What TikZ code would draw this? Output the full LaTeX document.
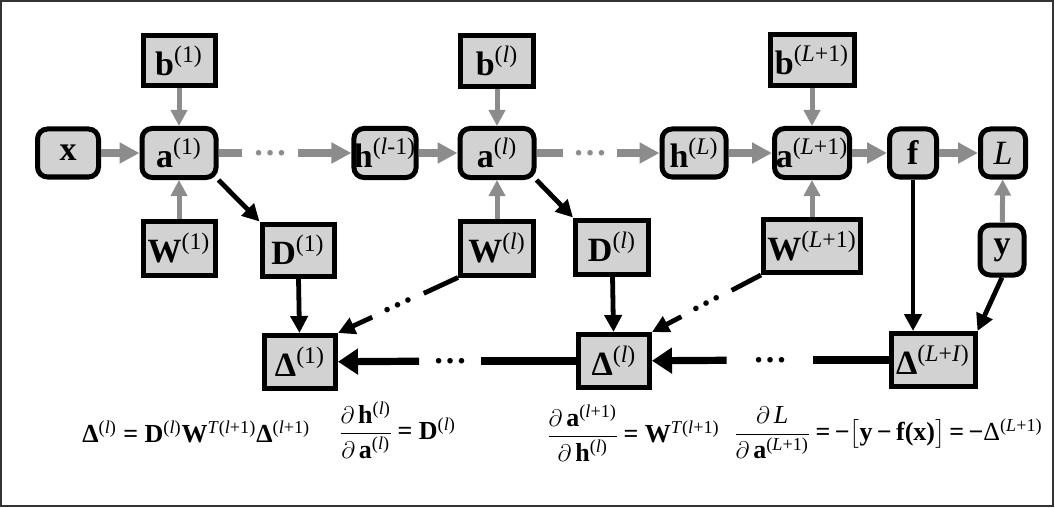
\documentclass[tikz,border=0pt]{standalone}
\usepackage{fontspec}
\setmainfont{Liberation Serif}
\usepackage{amsmath}
\usetikzlibrary{arrows.meta}
\newcommand{\sps}[1]{\textsuperscript{#1}}
\newcommand{\li}{\textit{l}}
\tikzset{
    nd/.style={draw=black, line width=2.5pt, fill=gray!35, inner sep=0pt},
    rbox/.style={nd, rounded corners=5pt},
    sbox/.style={nd},
    wh/.style 2 args={minimum width=#1*0.5pt, minimum height=#2*0.5pt},
    gline/.style={draw=black!45, line width=4pt},
    garrow/.style={gline, -{Triangle[length=10pt,width=10pt]}},
    gvarrow/.style={draw=black!45, line width=2.5pt, -{Triangle[length=8pt,width=8pt]}},
    bline/.style={draw=black, line width=2.4pt},
    barrow/.style={bline, -{Triangle[length=8.5pt,width=8.5pt]}},
    bhline/.style={draw=black, line width=3.6pt},
    bharrow/.style={bhline, -{Triangle[length=10pt,width=12.5pt]}},
    dots/.style={inner sep=0pt, font=\fontsize{17}{20}\selectfont\bfseries},
    eq/.style={inner sep=0pt, font=\fontsize{13}{16}\selectfont}
}
\begin{document}
\begin{tikzpicture}[x=0.5pt, y=-0.5pt, font=\fontsize{17}{20}\selectfont]
    \useasboundingbox (0,0) rectangle (1055,508);
    \draw[line width=1pt, black!80] (1,1) rectangle (1053,506);

    % 前向层
    \node[rbox, wh={61}{48}] (x)  at (68,153)  {\textbf{x}};
    \node[rbox, wh={74}{49}] (a1) at (179,153) {\textbf{a}\sps{(1)}};
    \node[sbox, wh={72}{50}] (b1) at (179,61)  {\textbf{b}\sps{(1)}};
    \node[sbox, wh={72}{54}] (W1) at (179,248) {\textbf{W}\sps{(1)}};
    \node[rbox, wh={62}{49}] (hl) at (385,153) {\textbf{h}\sps{(\li-1)}};
    \node[rbox, wh={74}{49}] (al) at (497,153) {\textbf{a}\sps{(\li)}};
    \node[sbox, wh={73}{51}] (bl) at (497,61)  {\textbf{b}\sps{(\li)}};
    \node[sbox, wh={73}{54}] (Wl) at (497,248) {\textbf{W}\sps{(\li)}};
    \node[rbox, wh={64}{48}] (hL) at (694,153) {\textbf{h}\sps{(\textit{L})}};
    \node[rbox, wh={75}{49}] (aL) at (812,153) {\textbf{a}\sps{(\textit{L}+1)}};
    \node[sbox, wh={84}{51}] (bL) at (812,60)  {\textbf{b}\sps{(\textit{L}+1)}};
    \node[sbox, wh={97}{53}] (WL) at (812,246) {\textbf{W}\sps{(\textit{L}+1)}};
    \node[rbox, wh={47}{48}] (f)  at (913,153) {\textbf{f}};
    \node[rbox, wh={45}{48}] (L)  at (1003,153) {\textit{L}};
    \node[rbox, wh={44}{50}] (y)  at (1002,250) {\textbf{y}};

    % 反向层
    \node[sbox, wh={72}{52}] (D1)  at (298,250) {\textbf{D}\sps{(1)}};
    \node[sbox, wh={73}{54}] (Dl)  at (612,247) {\textbf{D}\sps{(\li)}};
    \node[sbox, wh={71}{53}] (Dt1) at (300,362) {\textbf{Δ}\sps{(1)}};
    \node[sbox, wh={71}{53}] (Dtl) at (614,361) {\textbf{Δ}\sps{(\li)}};
    \node[sbox, wh={84}{53}] (DtL) at (933,360) {\textbf{Δ}\sps{(\textit{L}+\textit{I})}};

    % 省略号
    \node[dots, text=black!45, minimum width=55*0.5pt] (g1) at (270,153) {…};
    \node[dots, text=black!45, minimum width=54*0.5pt] (g2) at (590,153) {…};
    \node[dots, minimum width=61*0.5pt] (k2) at (450,361) {…};
    \node[dots, minimum width=86*0.5pt] (k3) at (770,360) {…};
    \path (Wl.south west) -- (Dt1.north east)
        node[dots, sloped, pos=0.5, minimum width=56*0.5pt] (k1) {…};
    \path (WL.south west) -- (Dtl.north east)
        node[dots, sloped, pos=0.5, minimum width=56*0.5pt] (k4) {…};

    % 前向箭头
    \draw[garrow] (x) -- (a1);
    \draw[gvarrow] (b1) -- (a1);
    \draw[gvarrow] (W1) -- (a1);
    \draw[gline] (a1) -- (g1);
    \draw[garrow] (g1) -- (hl);
    \draw[garrow] (hl) -- (al);
    \draw[gvarrow] (bl) -- (al);
    \draw[gvarrow] (Wl) -- (al);
    \draw[gline] (al) -- (g2);
    \draw[garrow] (g2) -- (hL);
    \draw[garrow] (hL) -- (aL);
    \draw[gvarrow] (bL) -- (aL);
    \draw[gvarrow] (WL) -- (aL);
    \draw[garrow] (aL) -- (f);
    \draw[garrow] (f) -- (L);
    \draw[gvarrow] (y) -- (L);

    % 反向箭头
    \draw[barrow] (a1.south east) -- (D1.north west);
    \draw[barrow] (al.south east) -- (Dl.north west);
    \draw[barrow] (D1) -- (Dt1);
    \draw[barrow] (Dl) -- (Dtl);
    \draw[barrow] (f) -- (f |- DtL.north);
    \draw[barrow] (y.south) -- (DtL.north east);
    \draw[bline] (Wl.south west) -- (k1);
    \draw[barrow] (k1) -- (Dt1.north east);
    \draw[bline] (WL.south west) -- (k4);
    \draw[barrow] (k4) -- (Dtl.north east);
    \draw[bhline] (DtL) -- (k3);
    \draw[bharrow] (k3) -- (Dtl);
    \draw[bhline] (Dtl) -- (k2);
    \draw[bharrow] (k2) -- (Dt1);

    % 公式
    \node[eq, anchor=base west] (e1) at (82,442)
        {\textbf{Δ}\sps{(\li)} \textbf{=} \textbf{D}\sps{(\li)}\textbf{W}\sps{\textit{T}(\li+1)}\textbf{Δ}\sps{(\li+1)}};
    \node[eq] (e2) at (397,430)
        {$\displaystyle\frac{\partial\,\text{\textbf{h}\sps{(\li)}}}{\partial\,\text{\textbf{a}\sps{(\li)}}}$\,\textbf{= D}\sps{(\li)}};
    \node[eq] (e3) at (633,433)
        {$\displaystyle\frac{\partial\,\text{\textbf{a}\sps{(\li+1)}}}{\partial\,\text{\textbf{h}\sps{(\li)}}}$\,\textbf{= W}\sps{\textit{T}(\li+1)}};
    \node[eq] (e4) at (888,433)
        {$\displaystyle\frac{\partial\,\text{\textit{L}}}{\partial\,\text{\textbf{a}\sps{(\textit{L}+1)}}}$\,\textbf{=\,−}$\bigl[$\textbf{y\,−\,f(x)}$\bigr]$\,\textbf{=\,−}Δ\sps{(\textit{L}+1)}};
\end{tikzpicture}
\end{document}
